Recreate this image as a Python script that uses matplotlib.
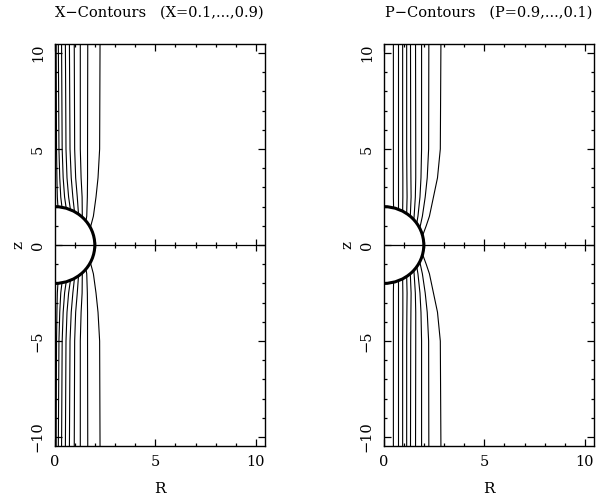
import numpy as np
import matplotlib
matplotlib.use("Agg")
import matplotlib.pyplot as plt
from matplotlib.patches import Arc
from matplotlib.ticker import MultipleLocator

plt.rcParams["font.family"] = ["DejaVu Serif"]
plt.rcParams["mathtext.fontset"] = "dejavuserif"

# z heights at which each contour's R was read (upper half, mirrored below)
z_levels = [10.5, 5.0, 3.5, 2.5, 1.5, 1.0]

# X-contours (X=0.1..0.9): R at z_levels, then the point where it meets the sphere
x_lines = [
    [0.08, 0.10, 0.12, 0.14],
    [0.19, 0.22, 0.26, 0.31],
    [0.35, 0.38, 0.43, 0.50],
    [0.54, 0.57, 0.62, 0.70],
    [0.74, 0.77, 0.83, 0.91],
    [0.98, 1.00, 1.05, 1.13],
    [1.28, 1.28, 1.32, 1.37],
    [1.65, 1.64, 1.64, 1.63, 1.60],
    [2.26, 2.24, 2.16, 2.06, 1.93],
]
x_contact_r = [0.17, 0.37, 0.58, 0.79, 0.99, 1.19, 1.38, 1.56, 1.78]
x_contact_z = [1.99, 1.97, 1.91, 1.84, 1.74, 1.61, 1.45, 1.25, 0.91]

# P-contours (P=0.9..0.1)
p_lines = [
    [0.49, 0.49, 0.49, 0.49],
    [0.73, 0.73, 0.73, 0.73],
    [0.95, 0.95, 0.96, 0.96],
    [1.15, 1.15, 1.16, 1.17],
    [1.34, 1.35, 1.36, 1.37],
    [1.59, 1.60, 1.60, 1.58, 1.52],
    [1.89, 1.89, 1.86, 1.81, 1.71],
    [2.25, 2.24, 2.17, 2.07, 1.93],
    [2.85, 2.82, 2.68, 2.48, 2.28, 2.12],
]
p_contact_r = [0.50, 0.73, 0.95, 1.15, 1.33, 1.50, 1.65, 1.80, 1.94]
p_contact_z = [1.94, 1.86, 1.76, 1.64, 1.49, 1.32, 1.13, 0.87, 0.49]

sphere_radius = 2.0
titles = ["X\u2212Contours   (X=0.1,...,0.9)", "P\u2212Contours   (P=0.9,...,0.1)"]

fig = plt.figure(figsize=(6.03, 4.97), dpi=100)
ax_pos = [[0.0904, 0.1032, 0.3491, 0.8076], [0.636, 0.1032, 0.3491, 0.8076]]


def draw_panel(ax, lines, cr, cz, title):
    for k, rs in enumerate(lines):
        r = list(rs) + [cr[k]]
        z = z_levels[:len(rs)] + [cz[k]]
        ax.plot(r, z, color="k", lw=0.8)
        ax.plot(r, [-v for v in z], color="k", lw=0.8)
    ax.add_patch(Arc((0, 0), 2 * sphere_radius, 2 * sphere_radius,
                     theta1=-90, theta2=90, color="k", lw=2.2))
    ax.axhline(0, color="k", lw=0.9)
    minor_r = [v for v in range(1, 11) if v % 5]
    ax.plot(minor_r, [0] * len(minor_r), "|", color="k", ms=5, mew=0.9)
    ax.plot([5, 10], [0, 0], "|", color="k", ms=9, mew=0.9)

    ax.set_xlim(0, 10.45)
    ax.set_ylim(-10.45, 10.45)
    ax.xaxis.set_major_locator(MultipleLocator(5))
    ax.xaxis.set_minor_locator(MultipleLocator(1))
    ax.yaxis.set_major_locator(MultipleLocator(5))
    ax.yaxis.set_minor_locator(MultipleLocator(1))
    ax.tick_params(which="both", direction="in", top=True, right=True,
                   width=0.9, labelsize=10.5, pad=7)
    ax.tick_params(which="major", length=5)
    ax.tick_params(which="minor", length=2.5)
    for lab in ax.get_yticklabels():
        lab.set_rotation(90)
        lab.set_va("center")
    ax.set_xlabel("R", fontsize=11, labelpad=9)
    ax.set_ylabel("z", fontsize=11, labelpad=4)
    for s in ax.spines.values():
        s.set_linewidth(1.0)
    ax.text(0.5, 1.078, title, transform=ax.transAxes, ha="center",
            va="center", fontsize=10.5)


ax1 = fig.add_axes(ax_pos[0])
draw_panel(ax1, x_lines, x_contact_r, x_contact_z, titles[0])
ax2 = fig.add_axes(ax_pos[1])
draw_panel(ax2, p_lines, p_contact_r, p_contact_z, titles[1])

fig.savefig("out.png", dpi=100)
